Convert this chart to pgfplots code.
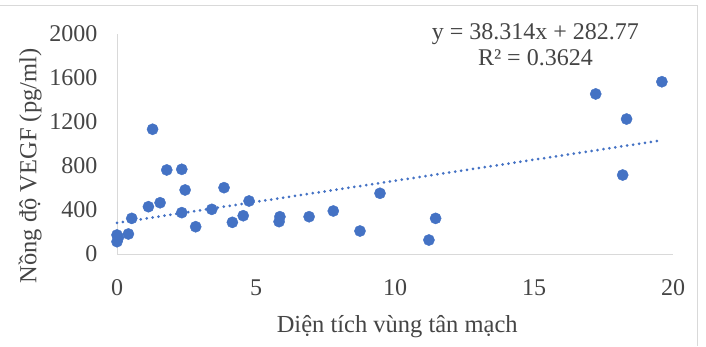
\documentclass[border=0pt]{standalone}
\usepackage{fontspec}
\setmainfont{Liberation Serif}
\usepackage{pgfplots}
\pgfplotsset{compat=1.18}
\definecolor{exblue}{HTML}{4472C4}
\definecolor{axgray}{HTML}{D9D9D9}
\definecolor{txtgray}{HTML}{454545}
\begin{document}
\begin{tikzpicture}[x=1pt,y=1pt]
\path[use as bounding box] (0,0) rectangle (706,346);
\draw[axgray,line width=1pt] (0,340) -- (697,340) -- (697,0);
\begin{axis}[
  at={(117pt,92pt)}, anchor=south west,
  scale only axis, width=556pt, height=220pt,
  xmin=0, xmax=20, ymin=0, ymax=2000,
  xtick={0,5,10,15,20}, ytick={0,400,800,1200,1600,2000},
  major tick length=0pt,
  axis x line*=bottom, axis y line*=left,
  axis line style={axgray, line width=1pt, -},
  /pgf/number format/assume math mode=true,
  /pgf/number format/1000 sep={},
  tick label style={font=\fontsize{24}{28}\selectfont, text=txtgray},
  xticklabel style={yshift=-22pt},
  yticklabel style={xshift=-16pt},
  xlabel={Diện tích vùng tân mạch},
  ylabel={Nồng độ VEGF (pg/ml)},
  label style={font=\fontsize{24.5}{28}\selectfont, text=txtgray},
  xlabel style={at={(axis description cs:0.504,-0.332)}, anchor=center},
  ylabel style={at={(axis description cs:-0.156,0.4)}, anchor=center},
  clip=false,
]
\addplot[only marks, mark=*, mark size=5.6pt, mark options={fill=exblue, draw=exblue}] coordinates {
(0,173) (0,112) (0.05,150) (0.41,182) (0.53,324) (1.13,430) (1.28,1134) (1.55,466)
(1.79,764) (2.33,770) (2.45,582) (2.33,376) (2.83,248) (3.41,406) (3.85,603)
(4.15,288) (4.54,348) (4.75,482) (5.86,339) (5.83,294) (6.91,339) (7.78,391)
(8.74,209) (9.46,552) (11.22,127) (11.46,324) (17.22,1455) (18.33,1227)
(18.19,718) (19.6,1566)
};
\addplot[exblue, line width=3pt, line cap=round, dash pattern=on 0pt off 6pt] coordinates {(0,282.77) (19.55,1031.8)};
\node[font=\fontsize{24}{28}\selectfont, text=txtgray, align=center, anchor=north] at (axis cs:15.05,2130) {y = 38.314x + 282.77\\[-2pt]R² = 0.3624};
\end{axis}
\end{tikzpicture}
\end{document}
